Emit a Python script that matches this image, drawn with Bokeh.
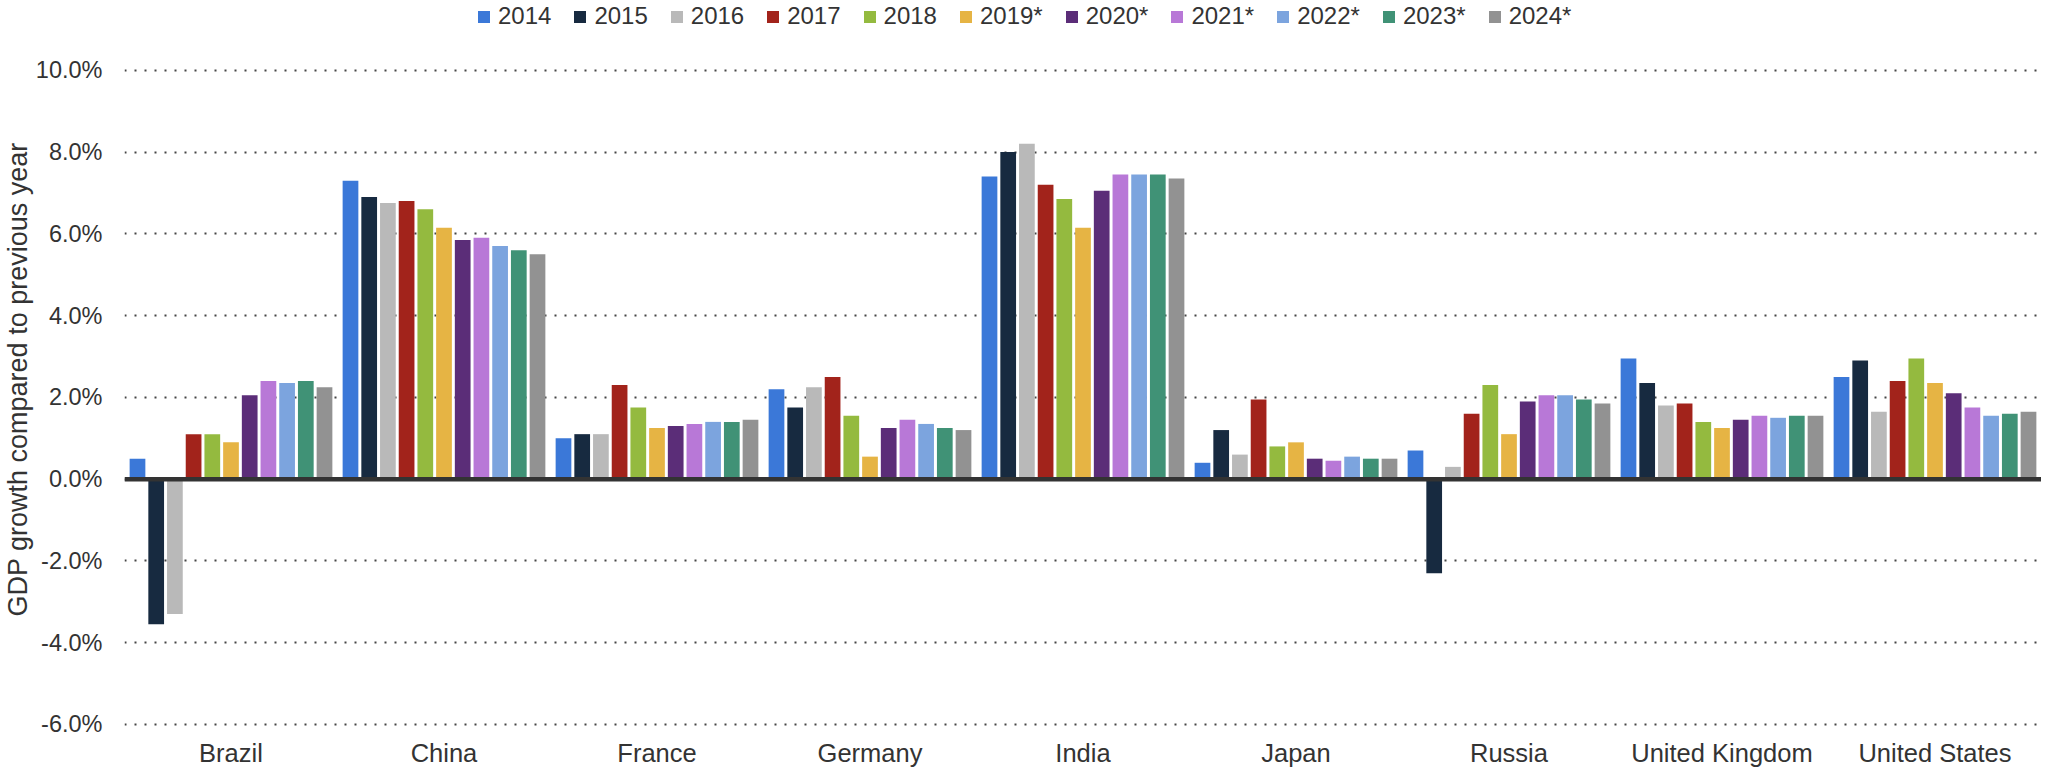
from bokeh.plotting import figure
from bokeh.models import (FactorRange, Range1d, FixedTicker, PrintfTickFormatter,
                          Span, Legend, LegendItem, ColumnDataSource, Title)
from bokeh.transform import dodge
from bokeh.embed import file_html
from bokeh.resources import INLINE

countries = ["Brazil", "China", "France", "Germany", "India", "Japan",
             "Russia", "United Kingdom", "United States"]
years = ["2014", "2015", "2016", "2017", "2018", "2019*", "2020*",
         "2021*", "2022*", "2023*", "2024*"]

g2014 = [0.5, 7.3, 1.0, 2.2, 7.4, 0.4, 0.7, 2.95, 2.5]
g2015 = [-3.55, 6.9, 1.1, 1.75, 8.0, 1.2, -2.3, 2.35, 2.9]
g2016 = [-3.3, 6.75, 1.1, 2.25, 8.2, 0.6, 0.3, 1.8, 1.65]
g2017 = [1.1, 6.8, 2.3, 2.5, 7.2, 1.95, 1.6, 1.85, 2.4]
g2018 = [1.1, 6.6, 1.75, 1.55, 6.85, 0.8, 2.3, 1.4, 2.95]
g2019 = [0.9, 6.15, 1.25, 0.55, 6.15, 0.9, 1.1, 1.25, 2.35]
g2020 = [2.05, 5.85, 1.3, 1.25, 7.05, 0.5, 1.9, 1.45, 2.1]
g2021 = [2.4, 5.9, 1.35, 1.45, 7.45, 0.45, 2.05, 1.55, 1.75]
g2022 = [2.35, 5.7, 1.4, 1.35, 7.45, 0.55, 2.05, 1.5, 1.55]
g2023 = [2.4, 5.6, 1.4, 1.25, 7.45, 0.5, 1.95, 1.55, 1.6]
g2024 = [2.25, 5.5, 1.45, 1.2, 7.35, 0.5, 1.85, 1.55, 1.65]

series = [g2014, g2015, g2016, g2017, g2018, g2019, g2020, g2021, g2022, g2023, g2024]
colors = ["#3b78d8", "#172a40", "#b9b9b9", "#a2231b", "#94ba3f", "#e6b444",
          "#5b2d78", "#b878d7", "#7ca4de", "#409276", "#929292"]

y_ticks = [-6, -4, -2, 0, 2, 4, 6, 8, 10]
y_title = "GDP growth compared to previous year"

data = {"country": countries}
for i, s in enumerate(series):
    data["s%d" % i] = s
src = ColumnDataSource(data)

FONT = "Liberation Sans"
TXT = "#333333"

p = figure(x_range=FactorRange(factors=countries, range_padding=0),
           y_range=Range1d(-6.147, 11.656),
           width=2041, height=769, output_backend="svg", toolbar_location=None,
           min_border_left=118, min_border_right=0, min_border_top=2,
           min_border_bottom=36)
p.outline_line_color = None

step = 0.0878
bw = 0.0738
items = []
for i, yr in enumerate(years):
    r = p.vbar(x=dodge("country", (i - 5) * step, range=p.x_range),
               top="s%d" % i, bottom=0, width=bw, source=src,
               fill_color=colors[i], line_color=None)
    items.append(LegendItem(label=yr, renderers=[r]))

p.add_layout(Span(location=0, dimension="width", line_color="#333333",
                  line_width=4.5))

legend = Legend(items=items, orientation="horizontal", location=(352, 700),
                glyph_width=15, glyph_height=15, label_standoff=7, spacing=21,
                padding=0, margin=0, border_line_color=None,
                background_fill_alpha=0, label_text_font_size="24px",
                label_text_font=FONT, label_text_color=TXT)
p.add_layout(legend)

p.add_layout(Title(text=y_title, align="left", offset=114, standoff=0,
                   text_font_size="27px", text_font=FONT,
                   text_font_style="normal", text_color=TXT), "left")

p.xgrid.grid_line_color = None
p.ygrid.grid_line_color = "#444444"
p.ygrid.grid_line_dash = "2 8"
p.ygrid.grid_line_width = 2

p.yaxis.ticker = FixedTicker(ticks=y_ticks)
p.yaxis.formatter = PrintfTickFormatter(format="%.1f%%")
p.yaxis.axis_line_color = None
p.yaxis.major_tick_line_color = None
p.yaxis.minor_tick_line_color = None
p.yaxis.major_tick_out = 0
p.yaxis.major_label_standoff = 22
p.yaxis.major_label_text_font_size = "23.5px"
p.yaxis.major_label_text_font = FONT
p.yaxis.major_label_text_color = TXT

p.xaxis.axis_line_color = None
p.xaxis.major_tick_line_color = None
p.xaxis.major_tick_out = 0
p.xaxis.major_label_standoff = 8
p.xaxis.major_label_text_font_size = "25.5px"
p.xaxis.major_label_text_font = FONT
p.xaxis.major_label_text_color = TXT

open("out.html", "w").write(file_html(p, INLINE))
